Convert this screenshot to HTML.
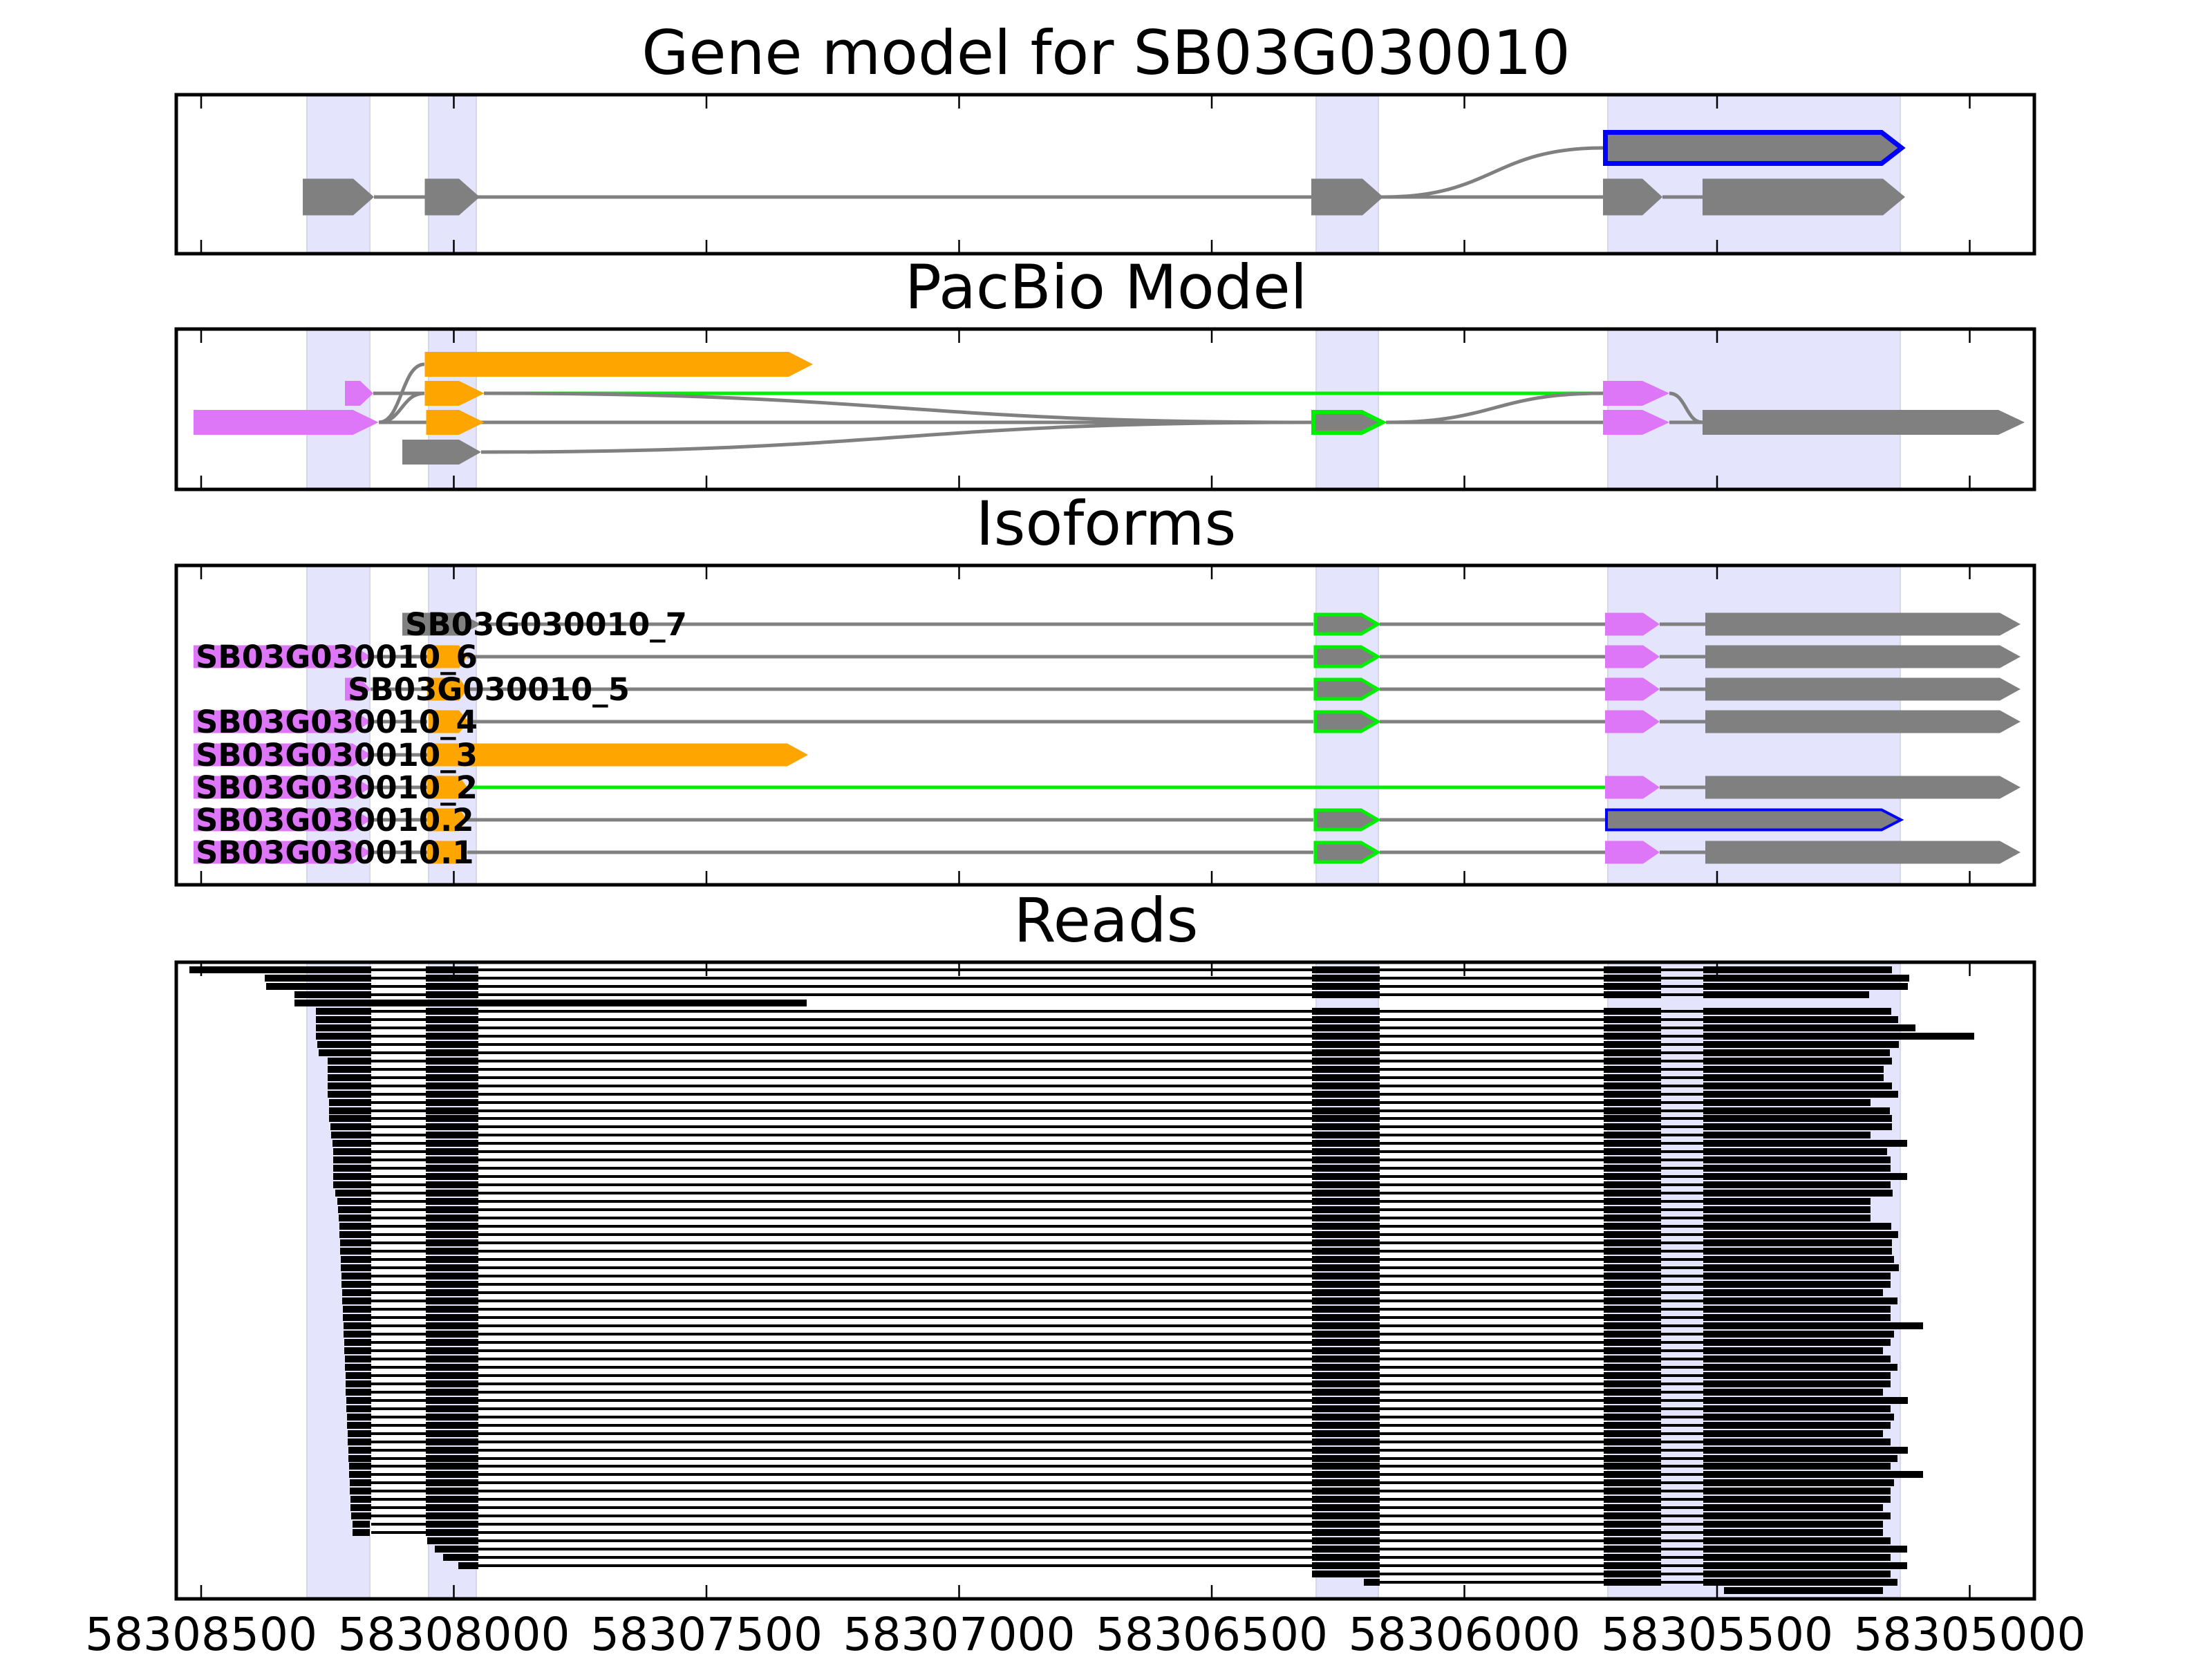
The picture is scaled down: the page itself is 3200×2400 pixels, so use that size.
<!DOCTYPE html>
<html><head><meta charset="utf-8"><style>
html,body{margin:0;padding:0;background:#fff;}
svg{display:block;}
text{font-family:"DejaVu Sans","Liberation Sans",sans-serif;}
</style></head><body>
<svg width="3200" height="2400" viewBox="0 0 3200 2400" xmlns="http://www.w3.org/2000/svg">
<defs>
<g id="m" fill="none" stroke="#000"><path stroke-width="4" d="M537,0H2464"/><path stroke-width="10" d="M616,0H692M1898,0H1996M2320,0H2403"/></g>
</defs>
<rect width="3200" height="2400" fill="#fff"/>
<text x="1600" y="107" font-size="88" text-anchor="middle">Gene model for SB03G030010</text>
<text x="1600" y="446" font-size="88" text-anchor="middle">PacBio Model</text>
<text x="1600" y="788" font-size="88" text-anchor="middle">Isoforms</text>
<text x="1600" y="1362" font-size="88" text-anchor="middle">Reads</text>

<g fill="#e4e4fc" stroke="#d6d6ee" stroke-width="2">
<rect x="444" y="137" width="91" height="230"/><rect x="620" y="137" width="69" height="230"/><rect x="1904" y="137" width="90" height="230"/><rect x="2326" y="137" width="423" height="230"/>
<rect x="444" y="476" width="91" height="232"/><rect x="620" y="476" width="69" height="232"/><rect x="1904" y="476" width="90" height="232"/><rect x="2326" y="476" width="423" height="232"/>
<rect x="444" y="818" width="91" height="462"/><rect x="620" y="818" width="69" height="462"/><rect x="1904" y="818" width="90" height="462"/><rect x="2326" y="818" width="423" height="462"/>
<rect x="444" y="1392" width="91" height="921"/><rect x="620" y="1392" width="69" height="921"/><rect x="1904" y="1392" width="90" height="921"/><rect x="2326" y="1392" width="423" height="921"/>
</g>

<g fill="none" stroke="#808080" stroke-width="5">
<path d="M541,285 H2319 M2405,285 H2463"/>
<path d="M2001,285 C2160,285 2160,214 2319,214"/>
</g>
<g fill="#808080">
<polygon points="438,258.5 511,258.5 541,285 511,311.5 438,311.5"/>
<polygon points="614.5,258.5 664,258.5 694,285 664,311.5 614.5,311.5"/>
<polygon points="1897,258.5 1971,258.5 2001,285 1971,311.5 1897,311.5"/>
<polygon points="2319,258.5 2376,258.5 2405,285 2376,311.5 2319,311.5"/>
<polygon points="2463,258.5 2724,258.5 2756,285 2724,311.5 2463,311.5"/>
</g>
<polygon points="2322.5,191.5 2722,191.5 2751,214 2722,236.5 2322.5,236.5" fill="#808080" stroke="#0000ff" stroke-width="7"/>

<g fill="none" stroke-width="5">
<path d="M700,569 H2319" stroke="#00ee00"/>
<g stroke="#808080">
<path d="M540,569 H614 M548,611 H1897 M2005,611 H2319 M2415,611 H2463"/>
<path d="M548,611 C581,611 581,527 614,527"/>
<path d="M548,611 C581,611 581,569 614,569"/>
<path d="M700,569 C1300,569 1300,611 1897,611"/>
<path d="M696,654 C1300,654 1300,611 1897,611"/>
<path d="M2005,611 C2162,611 2162,569 2319,569"/>
<path d="M2415,569 C2439,569 2439,611 2463,611"/>
</g></g>
<polygon fill="#ffa500" points="614.5,509 1141,509 1176,527 1141,545 614.5,545"/>
<polygon fill="#dd77f7" points="499,551 521,551 540,569 521,587 499,587"/>
<polygon fill="#ffa500" points="614.5,551 664,551 700.6,569 664,587 614.5,587"/>
<polygon fill="#dd77f7" points="280,593 510.6,593 547.6,611 510.6,629 280,629"/>
<polygon fill="#ffa500" points="616.5,593 664,593 700.6,611 664,629 616.5,629"/>
<polygon fill="#808080" points="582,636 664,636 696,654 664,672 582,672"/>
<polygon fill="#808080" stroke="#00ee00" stroke-width="6" points="1900,596 1970,596 2000,611 1970,626 1900,626"/>
<polygon fill="#dd77f7" points="2319,551 2376,551 2415,569 2376,587 2319,587"/>
<polygon fill="#dd77f7" points="2319,593 2376,593 2415,611 2376,629 2319,629"/>
<polygon fill="#808080" points="2463,593 2891,593 2929,611 2891,629 2463,629"/>

<g fill="none" stroke-width="5">
<g stroke="#808080">
<path d="M696,903 H1900 M1996,903 H2322 M2401,903 H2467"/>
<path d="M537,950 H618 M676,950 H1900 M1996,950 H2322 M2401,950 H2467"/>
<path d="M536,997 H618 M676,997 H1900 M1996,997 H2322 M2401,997 H2467"/>
<path d="M537,1044 H618 M676,1044 H1900 M1996,1044 H2322 M2401,1044 H2467"/>
<path d="M537,1092 H618"/>
<path d="M537,1139 H618 M2401,1139 H2467"/>
<path d="M537,1186 H618 M676,1186 H1900 M1996,1186 H2322"/>
<path d="M537,1233 H618 M676,1233 H1900 M1996,1233 H2322 M2401,1233 H2467"/>
</g>
<path d="M676,1139 H2322" stroke="#00ee00"/>
</g>
<polygon fill="#808080" points="582,886.5 664,886.5 696,903 664,919.5 582,919.5"/>
<g fill="#dd77f7">
<polygon points="280,933.5 510,933.5 537,950 510,966.5 280,966.5"/>
<polygon points="499,980.5 520,980.5 536,997 520,1013.5 499,1013.5"/>
<polygon points="280,1027.5 510,1027.5 537,1044 510,1060.5 280,1060.5"/>
<polygon points="280,1075.5 510,1075.5 537,1092 510,1108.5 280,1108.5"/>
<polygon points="280,1122.5 510,1122.5 537,1139 510,1155.5 280,1155.5"/>
<polygon points="280,1169.5 510,1169.5 537,1186 510,1202.5 280,1202.5"/>
<polygon points="280,1216.5 510,1216.5 537,1233 510,1249.5 280,1249.5"/>
</g>
<g fill="#ffa500">
<polygon points="618,933.5 664,933.5 676,950 664,966.5 618,966.5"/>
<polygon points="618,980.5 664,980.5 676,997 664,1013.5 618,1013.5"/>
<polygon points="620,1027.5 664,1027.5 678,1044 664,1060.5 620,1060.5"/>
<polygon points="618,1075.5 1139,1075.5 1169,1092 1139,1108.5 618,1108.5"/>
<polygon points="618,1122.5 664,1122.5 676,1139 664,1155.5 618,1155.5"/>
<polygon points="618,1169.5 664,1169.5 676,1186 664,1202.5 618,1202.5"/>
<polygon points="618,1216.5 664,1216.5 676,1233 664,1249.5 618,1249.5"/>
</g>
<g fill="#808080" stroke="#00ee00" stroke-width="5">
<polygon points="1903,889 1969,889 1993,903 1969,917 1903,917"/>
<polygon points="1903,936 1969,936 1993,950 1969,964 1903,964"/>
<polygon points="1903,983 1969,983 1993,997 1969,1011 1903,1011"/>
<polygon points="1903,1030 1969,1030 1993,1044 1969,1058 1903,1058"/>
<polygon points="1903,1172 1969,1172 1993,1186 1969,1200 1903,1200"/>
<polygon points="1903,1219 1969,1219 1993,1233 1969,1247 1903,1247"/>
</g>
<g fill="#dd77f7">
<polygon points="2322,886.5 2377,886.5 2401,903 2377,919.5 2322,919.5"/>
<polygon points="2322,933.5 2377,933.5 2401,950 2377,966.5 2322,966.5"/>
<polygon points="2322,980.5 2377,980.5 2401,997 2377,1013.5 2322,1013.5"/>
<polygon points="2322,1027.5 2377,1027.5 2401,1044 2377,1060.5 2322,1060.5"/>
<polygon points="2322,1122.5 2377,1122.5 2401,1139 2377,1155.5 2322,1155.5"/>
<polygon points="2322,1216.5 2377,1216.5 2401,1233 2377,1249.5 2322,1249.5"/>
</g>
<g fill="#808080">
<polygon points="2467,886.5 2893,886.5 2923,903 2893,919.5 2467,919.5"/>
<polygon points="2467,933.5 2893,933.5 2923,950 2893,966.5 2467,966.5"/>
<polygon points="2467,980.5 2893,980.5 2923,997 2893,1013.5 2467,1013.5"/>
<polygon points="2467,1027.5 2893,1027.5 2923,1044 2893,1060.5 2467,1060.5"/>
<polygon points="2467,1122.5 2893,1122.5 2923,1139 2893,1155.5 2467,1155.5"/>
<polygon points="2467,1216.5 2893,1216.5 2923,1233 2893,1249.5 2467,1249.5"/>
</g>
<polygon fill="#808080" stroke="#0000ff" stroke-width="4" points="2324,1171.5 2722,1171.5 2750,1186 2722,1200.5 2324,1200.5"/>
<g font-size="45" font-weight="bold" fill="#000">
<text x="586" y="919">SB03G030010_7</text>
<text x="283" y="966">SB03G030010_6</text>
<text x="503" y="1013">SB03G030010_5</text>
<text x="283" y="1060">SB03G030010_4</text>
<text x="283" y="1108">SB03G030010_3</text>
<text x="283" y="1155">SB03G030010_2</text>
<text x="283" y="1202">SB03G030010.2</text>
<text x="283" y="1249">SB03G030010.1</text>
</g>

<!-- Reads: shared middle part -->
<use href="#m" y="1403"/><use href="#m" y="1415"/><use href="#m" y="1427"/><use href="#m" y="1439"/>
<use href="#m" y="1463"/><use href="#m" y="1475"/><use href="#m" y="1487"/><use href="#m" y="1499"/><use href="#m" y="1511"/>
<use href="#m" y="1523"/><use href="#m" y="1535"/><use href="#m" y="1547"/><use href="#m" y="1559"/><use href="#m" y="1571"/>
<use href="#m" y="1583"/><use href="#m" y="1595"/><use href="#m" y="1607"/><use href="#m" y="1618"/><use href="#m" y="1630"/>
<use href="#m" y="1642"/><use href="#m" y="1654"/><use href="#m" y="1666"/><use href="#m" y="1678"/><use href="#m" y="1690"/>
<use href="#m" y="1702"/><use href="#m" y="1714"/><use href="#m" y="1726"/><use href="#m" y="1738"/><use href="#m" y="1750"/>
<use href="#m" y="1762"/><use href="#m" y="1774"/><use href="#m" y="1786"/><use href="#m" y="1798"/><use href="#m" y="1810"/>
<use href="#m" y="1822"/><use href="#m" y="1834"/><use href="#m" y="1846"/><use href="#m" y="1858"/><use href="#m" y="1870"/>
<use href="#m" y="1882"/><use href="#m" y="1894"/><use href="#m" y="1906"/><use href="#m" y="1918"/><use href="#m" y="1930"/>
<use href="#m" y="1942"/><use href="#m" y="1954"/><use href="#m" y="1966"/><use href="#m" y="1978"/><use href="#m" y="1990"/>
<use href="#m" y="2002"/><use href="#m" y="2014"/><use href="#m" y="2026"/><use href="#m" y="2038"/><use href="#m" y="2050"/>
<use href="#m" y="2062"/><use href="#m" y="2074"/><use href="#m" y="2086"/><use href="#m" y="2098"/><use href="#m" y="2110"/>
<use href="#m" y="2121"/><use href="#m" y="2133"/><use href="#m" y="2145"/><use href="#m" y="2157"/><use href="#m" y="2169"/>
<use href="#m" y="2181"/><use href="#m" y="2193"/><use href="#m" y="2205"/><use href="#m" y="2217"/>
<!-- Reads: starts and ends -->
<path fill="none" stroke="#000" stroke-width="10" d="M274,1403H537M2464,1403H2737 M383,1415H537M2464,1415H2762 M385,1427H537M2464,1427H2760 M426,1439H537M2464,1439H2704 M426,1451H1167 M457,1463H537M2464,1463H2736 M457,1475H537M2464,1475H2746 M457,1487H537M2464,1487H2771 M457,1499H537M2464,1499H2856 M459,1511H537M2464,1511H2747 M461,1523H537M2464,1523H2734 M474,1535H537M2464,1535H2737 M474,1547H537M2464,1547H2725 M474,1559H537M2464,1559H2725 M474,1571H537M2464,1571H2737 M474,1583H537M2464,1583H2746 M476,1595H537M2464,1595H2706 M476,1607H537M2464,1607H2734 M476,1618H537M2464,1618H2737 M478,1630H537M2464,1630H2737 M479,1642H537M2464,1642H2706 M481,1654H537M2464,1654H2759 M482,1666H537M2464,1666H2730 M482,1678H537M2464,1678H2735 M482,1690H537M2464,1690H2735 M482,1702H537M2464,1702H2759 M482,1714H537M2464,1714H2735 M485,1726H537M2464,1726H2738 M488,1738H537M2464,1738H2706 M489,1750H537M2464,1750H2706 M490,1762H537M2464,1762H2706 M491,1774H537M2464,1774H2736 M491,1786H537M2464,1786H2746 M492,1798H537M2464,1798H2737 M492,1810H537M2464,1810H2737 M493,1822H537M2464,1822H2740 M493,1834H537M2464,1834H2747 M494,1846H537M2464,1846H2735 M494,1858H537M2464,1858H2735 M495,1870H537M2464,1870H2724 M495,1882H537M2464,1882H2745 M496,1894H537M2464,1894H2735 M496,1906H537M2464,1906H2735 M497,1918H537M2464,1918H2782 M497,1930H537M2464,1930H2740 M498,1942H537M2464,1942H2735 M498,1954H537M2464,1954H2724 M499,1966H537M2464,1966H2735 M499,1978H537M2464,1978H2745 M500,1990H537M2464,1990H2735 M500,2002H537M2464,2002H2735 M500,2014H537M2464,2014H2724 M501,2026H537M2464,2026H2760 M501,2038H537M2464,2038H2735 M502,2050H537M2464,2050H2740 M502,2062H537M2464,2062H2735 M503,2074H537M2464,2074H2724 M503,2086H537M2464,2086H2735 M504,2098H537M2464,2098H2760 M504,2110H537M2464,2110H2745 M505,2121H537M2464,2121H2735 M505,2133H537M2464,2133H2782 M506,2145H537M2464,2145H2740 M506,2157H537M2464,2157H2735 M507,2169H537M2464,2169H2735 M507,2181H537M2464,2181H2724 M508,2193H537M2464,2193H2735 M510,2205H535M2464,2205H2724 M510,2217H535M2464,2217H2724 M618,2229H692M1898,2229H1996M2320,2229H2403M2464,2229H2735 M629,2241H692M1898,2241H1996M2320,2241H2403M2464,2241H2759 M641,2253H692M1898,2253H1996M2320,2253H2403M2464,2253H2735 M663,2265H692M1898,2265H1996M2320,2265H2403M2464,2265H2759 M1898,2277H1996M2320,2277H2403M2464,2277H2735 M1973,2289H1996M2320,2289H2403M2464,2289H2745 M2494,2301H2724"/>
<path fill="none" stroke="#000" stroke-width="4" d="M274,1403H290 M692,2229H2464 M692,2241H2464 M692,2253H2464 M692,2265H2464 M1996,2277H2464 M1996,2289H2464"/>

<g fill="none" stroke="#000" stroke-width="5">
<rect x="255" y="137" width="2688" height="230"/>
<rect x="255" y="476" width="2688" height="232"/>
<rect x="255" y="818" width="2688" height="462"/>
<rect x="255" y="1392" width="2688" height="921"/>
</g>
<g stroke="#000" stroke-width="2.5">
<path d="M291,137v20M656.5,137v20M1022,137v20M1387.5,137v20M1753,137v20M2118.5,137v20M2484,137v20M2849.5,137v20M291,367v-20M656.5,367v-20M1022,367v-20M1387.5,367v-20M1753,367v-20M2118.5,367v-20M2484,367v-20M2849.5,367v-20"/>
<path d="M291,476v20M656.5,476v20M1022,476v20M1387.5,476v20M1753,476v20M2118.5,476v20M2484,476v20M2849.5,476v20M291,708v-20M656.5,708v-20M1022,708v-20M1387.5,708v-20M1753,708v-20M2118.5,708v-20M2484,708v-20M2849.5,708v-20"/>
<path d="M291,818v20M656.5,818v20M1022,818v20M1387.5,818v20M1753,818v20M2118.5,818v20M2484,818v20M2849.5,818v20M291,1280v-20M656.5,1280v-20M1022,1280v-20M1387.5,1280v-20M1753,1280v-20M2118.5,1280v-20M2484,1280v-20M2849.5,1280v-20"/>
<path d="M291,1392v20M656.5,1392v20M1022,1392v20M1387.5,1392v20M1753,1392v20M2118.5,1392v20M2484,1392v20M2849.5,1392v20M291,2313v-20M656.5,2313v-20M1022,2313v-20M1387.5,2313v-20M1753,2313v-20M2118.5,2313v-20M2484,2313v-20M2849.5,2313v-20"/>
</g>
<g font-size="66" text-anchor="middle" fill="#000">
<text x="291" y="2387">58308500</text>
<text x="656.5" y="2387">58308000</text>
<text x="1022" y="2387">58307500</text>
<text x="1387.5" y="2387">58307000</text>
<text x="1753" y="2387">58306500</text>
<text x="2118.5" y="2387">58306000</text>
<text x="2484" y="2387">58305500</text>
<text x="2849.5" y="2387">58305000</text>
</g>
</svg>
</body></html>
